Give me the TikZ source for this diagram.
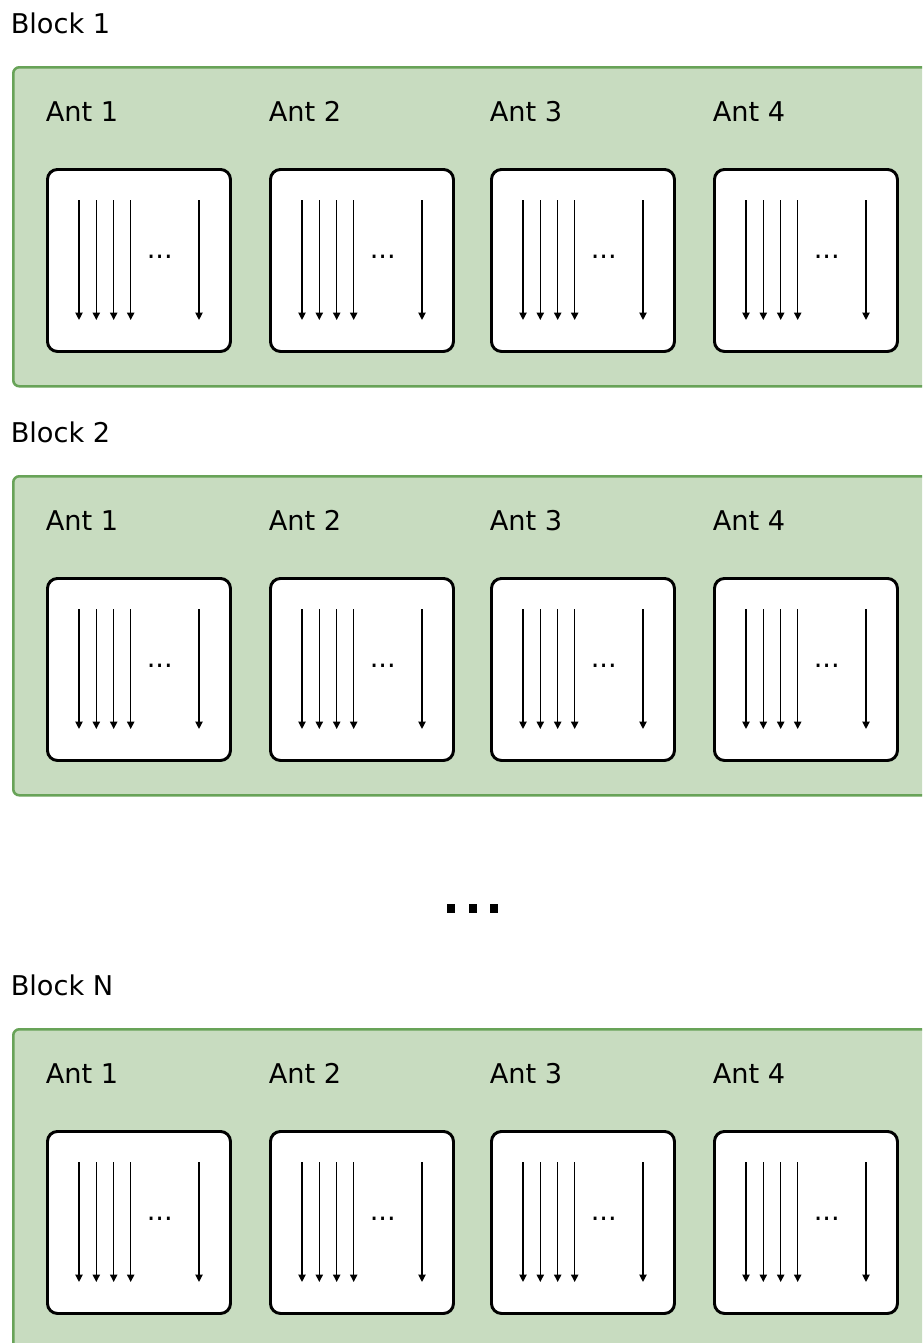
\documentclass[tikz,border=0pt]{standalone}
\usepackage{fontspec}
\setmainfont{DejaVu Sans}
\usetikzlibrary{arrows.meta,calc}
\definecolor{blockfill}{RGB}{200,220,192}
\definecolor{blockline}{RGB}{104,163,88}
\tikzset{
  blockbox/.style={draw=blockline,fill=blockfill,line width=1.9pt,rounded corners=4.5pt,inner sep=0pt,minimum width=700pt,minimum height=239.25pt},
  antbox/.style={draw=black,fill=white,line width=2.2pt,rounded corners=7.5pt,inner sep=0pt,minimum width=137.25pt,minimum height=136.5pt},
  lbl/.style={font=\fontsize{20.4}{24}\selectfont,inner sep=0pt,anchor=base west},
  gapdot/.style={fill=black,inner sep=0pt,minimum width=6pt,minimum height=6.6pt},
  ray/.style={line width=0.9pt,-{Triangle[length=5.5pt,width=5.5pt]}}
}
\begin{document}
\begin{tikzpicture}[x=0.75pt,y=-0.75pt]
\useasboundingbox (0,0) rectangle (922,1343);
\clip (0,0) rectangle (922,1343);
% blocks
\foreach \blk/\top/\name in {1/66/1,2/475/2,3/1028/N} {
  \node[lbl] (blk\blk-title) at (10.5,\top-33) {Block \name};
  \node[blockbox,anchor=north west] (blk\blk) at (12,\top) {};
  \foreach \ant/\x in {1/46,2/269,3/490,4/713} {
    \node[lbl] (blk\blk-ant\ant-title) at (\x-0.5,\top+55) {Ant \ant};
    \node[antbox,anchor=north west] (blk\blk-ant\ant) at (\x,\top+102) {};
    \foreach \dx in {33,50.3,67.7,84.7,153}
      \draw[ray] ($(blk\blk-ant\ant.north west)+(\dx,32)$) -- ($(blk\blk-ant\ant.south west)+(\dx,-33)$);
    \node[lbl] (blk\blk-ant\ant-dots) at ($(blk\blk-ant\ant.north west)+(100.5,90)$) {...};
  }
}
% gap between block 2 and block N
\foreach \i/\x in {1/451,2/472.5,3/494}
  \node[gapdot] (gap\i) at (\x,908.5) {};
\end{tikzpicture}
\end{document}
